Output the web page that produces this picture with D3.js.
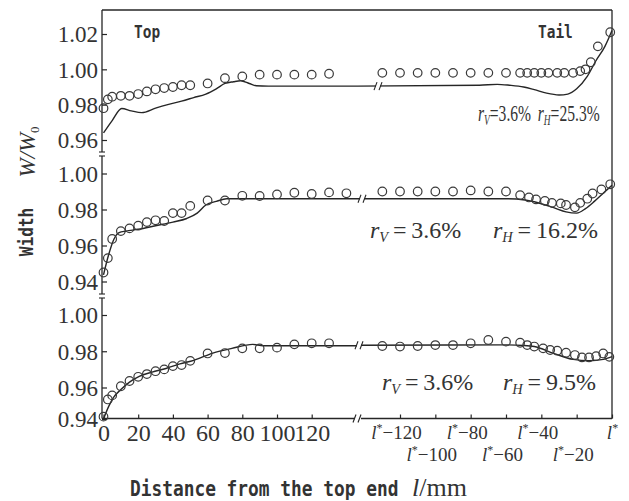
<!DOCTYPE html>
<html><head><meta charset="utf-8">
<script src="https://cdn.jsdelivr.net/npm/d3@7"></script>
<style>body{margin:0;background:#fff}svg{display:block}</style>
</head><body>
<svg id="c" width="629" height="501"></svg>
<script>
// ---------------- data ----------------
// x in mm from top end (left part) and relative to l* (right part, negative = l*-n)
const topCircLx = [0,2.5,5,10,15,20,25,30,35,40,45,50,60,70,80,90,100,110,120,130];
const topCircLy = [0.978,0.983,0.9845,0.985,0.985,0.986,0.9875,0.9887,0.9894,0.990,0.991,0.991,0.992,0.995,0.996,0.997,0.997,0.997,0.997,0.9975];
const topCircRx = [-130,-120,-110,-100,-90,-80,-70,-60,-52,-48,-44,-40,-36,-31,-27,-22,-18,-15,-12,-8,-1];
const topCircRy = [0.998,0.998,0.998,0.998,0.998,0.998,0.998,0.998,0.998,0.998,0.998,0.998,0.998,0.998,0.998,0.998,0.999,1.000,1.004,1.013,1.021];
const topLineLx = [0,5,10.5,16,22,30,37,45,52,59,65,70,75,79,84,88,95,146];
const topLineLy = [0.964,0.971,0.9778,0.9765,0.9755,0.978,0.980,0.982,0.984,0.986,0.989,0.992,0.993,0.9935,0.992,0.9907,0.9905,0.9905];
const topLineRx = [-144,-75,-65,-58,-50,-44,-37,-30,-25,-20,-14,-9,-4,0];
const topLineRy = [0.9905,0.991,0.9915,0.991,0.990,0.9885,0.9865,0.9855,0.986,0.989,0.996,1.005,1.013,1.022];

const midCircLx = [0,2.5,5,10,15,20,25,30,35,40,45,50,60,70,80,90,100,110,120,130,140];
const midCircLy = [0.945,0.953,0.9636,0.968,0.9695,0.971,0.973,0.974,0.9736,0.978,0.978,0.982,0.985,0.985,0.9876,0.9875,0.9884,0.9893,0.9886,0.9895,0.989];
const midCircRx = [-130,-120,-110,-100,-90,-80,-70,-60,-52,-47,-43,-38,-34,-29,-26,-21,-18,-14,-11,-6,-1];
const midCircRy = [0.990,0.990,0.990,0.990,0.990,0.9906,0.990,0.990,0.988,0.9867,0.9856,0.9848,0.9837,0.9834,0.9825,0.9812,0.9837,0.986,0.9889,0.9911,0.994];
const midLineLx = [0,3,6,9,13,20,30,40,48,54,59,65,71,80,146];
const midLineLy = [0.9437,0.955,0.9635,0.9672,0.968,0.969,0.971,0.973,0.975,0.978,0.9825,0.9845,0.986,0.986,0.986];
const midLineRx = [-144,-60,-54,-44,-33,-26,-20,-15,-10,-5,0];
const midLineRy = [0.986,0.986,0.9858,0.9843,0.981,0.9787,0.978,0.9805,0.9845,0.989,0.9935];

const botCircLx = [0,2.5,5,10,15,20,25,30,35,40,45,50,60,70,80,90,100,110,120,130];
const botCircLy = [0.9415,0.9524,0.955,0.9607,0.9636,0.9659,0.9674,0.969,0.970,0.9718,0.9724,0.9747,0.9788,0.979,0.9816,0.9816,0.982,0.9838,0.9844,0.9844];
const botCircRx = [-130,-120,-110,-100,-90,-80,-70,-60,-52,-48,-44,-39,-35,-31,-26,-21,-17,-13,-9,-5,-1.5];
const botCircRy = [0.9829,0.9826,0.9829,0.9834,0.9834,0.9844,0.9862,0.9853,0.9847,0.9834,0.9826,0.9816,0.9807,0.9803,0.9792,0.9779,0.9766,0.9766,0.9773,0.9788,0.9769];
const botLineLx = [0,3,6,10,15,20.6,28,36,44,52,63,74,86,92,146];
const botLineLy = [0.940,0.948,0.954,0.9587,0.963,0.9662,0.9685,0.9705,0.973,0.975,0.979,0.9816,0.9838,0.983,0.983];
const botLineRx = [-144,-60,-50,-44,-33,-22,-13,-5,0];
const botLineRy = [0.9833,0.9835,0.9832,0.9826,0.9788,0.9755,0.9748,0.9755,0.977];

const topTicks = [0.96,0.98,1.00,1.02];
const midTicks = [0.94,0.96,0.98,1.00];
const botTicks = [0.94,0.96,0.98,1.00];
const leftXTicks = [0,20,40,60,80,100,120];
const rightXTicks = [-120,-100,-80,-60,-40,-20,0];
const annotations = [
  {rv:"3.6%", rh:"25.3%"},
  {rv:"3.6%", rh:"16.2%"},
  {rv:"3.6%", rh:"9.5%"}
];

// ---------------- layout ----------------
const svg = d3.select("#c");
const ink = "#262626";
const AX_L = 102, AX_T = 10, AX_B = 418.5, AX_R = 612;

const xL = d3.scaleLinear().domain([0,120]).range([103.5,311.7]);
const xR = d3.scaleLinear().domain([-120,0]).range([400,612]);
const yTop = d3.scaleLinear().domain([0.96,1.02]).range([140,34]);
const yMid = d3.scaleLinear().domain([0.94,1.00]).range([281.5,173.5]);
const yBot = d3.scaleLinear().domain([0.94,0.96,1.00]).range([419,387.5,315]);

// frame
const frame = svg.append("g").attr("stroke", ink).attr("stroke-width", 1.3).attr("fill","none");
frame.append("line").attr("x1",AX_L).attr("x2",AX_R).attr("y1",AX_T).attr("y2",AX_T);
frame.append("line").attr("x1",AX_R).attr("x2",AX_R).attr("y1",AX_T).attr("y2",AX_B);
[[AX_T,152],[156,294],[298,AX_B]].forEach(s=>{
  frame.append("line").attr("x1",AX_L).attr("x2",AX_L).attr("y1",s[0]).attr("y2",s[1]);
});
[152,156,294,298].forEach(y=>{
  frame.append("line").attr("x1",AX_L-3).attr("x2",AX_L+3).attr("y1",y).attr("y2",y).attr("stroke-width",1.1);
});
frame.append("line").attr("x1",AX_L).attr("x2",355).attr("y1",AX_B).attr("y2",AX_B);
frame.append("line").attr("x1",361).attr("x2",AX_R).attr("y1",AX_B).attr("y2",AX_B);
[354.5,359.5].forEach(x=>{
  frame.append("line").attr("x1",x-1.5).attr("x2",x+1.5).attr("y1",AX_B+4).attr("y2",AX_B-4).attr("stroke-width",1.1);
});

// y axes
function yAxis(scale, ticks){
  const g = svg.append("g").attr("transform",`translate(${AX_L},0)`)
    .call(d3.axisLeft(scale).tickValues(ticks).tickSize(-5).tickSizeOuter(0).tickPadding(4).tickFormat(d3.format(".2f")));
  g.select(".domain").remove();
  g.selectAll(".tick line").attr("stroke",ink).attr("stroke-width",1.2);
  g.selectAll(".tick text").attr("font-family","'Liberation Serif',serif").attr("font-size",23).attr("fill","#333").attr("dy","0.34em");
}
yAxis(yTop, topTicks);
yAxis(yMid, midTicks);
yAxis(yBot, botTicks);

// x axes
const gxl = svg.append("g").attr("transform",`translate(0,${AX_B})`)
  .call(d3.axisBottom(xL).tickValues(leftXTicks).tickSize(-4).tickSizeOuter(0).tickPadding(5));
gxl.select(".domain").remove();
gxl.selectAll(".tick line").attr("stroke",ink).attr("stroke-width",1.2);
gxl.selectAll(".tick text").attr("font-family","'Liberation Serif',serif").attr("font-size",24).attr("fill","#333");

const gxr = svg.append("g").attr("transform",`translate(0,${AX_B})`)
  .call(d3.axisBottom(xR).tickValues(rightXTicks).tickSize(-4).tickSizeOuter(0).tickPadding(5));
gxr.select(".domain").remove();
gxr.selectAll(".tick line").attr("stroke",ink).attr("stroke-width",1.2);
gxr.selectAll(".tick text").each(function(d,i){
  const t = d3.select(this).text(null)
    .attr("font-family","'Liberation Serif',serif").attr("font-size",19).attr("fill","#333")
    .attr("dy", (i%2===1) ? "1.95em" : "0.8em")
    .attr("dx", d===0 ? 0 : -4);
  t.append("tspan").attr("font-style","italic").text("l");
  t.append("tspan").attr("font-size",12).attr("dy",-7).text("*");
  if(d!==0) t.append("tspan").attr("dy",7).text("\u2212"+Math.abs(d));
});

// series
const panels = [
  {y:yTop, cLx:topCircLx, cLy:topCircLy, cRx:topCircRx, cRy:topCircRy, lLx:topLineLx, lLy:topLineLy, lRx:topLineRx, lRy:topLineRy, brk:378},
  {y:yMid, cLx:midCircLx, cLy:midCircLy, cRx:midCircRx, cRy:midCircRy, lLx:midLineLx, lLy:midLineLy, lRx:midLineRx, lRy:midLineRy, brk:362},
  {y:yBot, cLx:botCircLx, cLy:botCircLy, cRx:botCircRx, cRy:botCircRy, lLx:botLineLx, lLy:botLineLy, lRx:botLineRx, lRy:botLineRy, brk:359}
];

panels.forEach(p=>{
  const pts = p.lLx.map((x,i)=>({px:xL(x), v:p.lLy[i]}))
    .concat(p.lRx.map((x,i)=>({px:xR(x), v:p.lRy[i]})));
  pts.sort((a,b)=>a.px-b.px);
  const line = d3.line().x(d=>d.px).y(d=>p.y(d.v)).curve(d3.curveMonotoneX);
  svg.append("path").datum(pts).attr("d",line).attr("fill","none").attr("stroke",ink).attr("stroke-width",1.4);
  const yb = p.y(p.lRy[0]);
  svg.append("rect").attr("x",p.brk-2).attr("y",yb-3).attr("width",4).attr("height",6).attr("fill","#fff");
  [p.brk-2.5,p.brk+2.5].forEach(x=>{
    svg.append("line").attr("x1",x-1.5).attr("x2",x+1.5).attr("y1",yb+4).attr("y2",yb-4).attr("stroke",ink).attr("stroke-width",1.1);
  });
  const circ = p.cLx.map((x,i)=>({px:xL(x), v:p.cLy[i]}))
    .concat(p.cRx.map((x,i)=>({px:xR(x), v:p.cRy[i]})));
  svg.append("g").selectAll("circle").data(circ).join("circle")
    .attr("cx",d=>d.px).attr("cy",d=>p.y(d.v)).attr("r",4.3)
    .attr("fill","none").attr("stroke","#3a3a3a").attr("stroke-width",1.2);
});

// annotations
function annot(x, y, x2rel, a, fs, sx, sp){
  const g = svg.append("g").attr("transform",`translate(${x},${y}) scale(${sx},1)`)
    .attr("font-family","'Liberation Serif',serif").attr("font-size",fs).attr("fill","#333");
  const t1 = g.append("text").attr("x",0).attr("y",0);
  t1.append("tspan").attr("font-style","italic").text("r");
  t1.append("tspan").attr("font-style","italic").attr("font-size",fs*0.6).attr("dy",4).text("V");
  t1.append("tspan").attr("dy",-4).text(sp+"="+sp+a.rv);
  const t2 = g.append("text").attr("x",x2rel).attr("y",0);
  t2.append("tspan").attr("font-style","italic").text("r");
  t2.append("tspan").attr("font-style","italic").attr("font-size",fs*0.6).attr("dy",4).text("H");
  t2.append("tspan").attr("dy",-4).text(sp+"="+sp+a.rh);
}
annot(478, 121, 92, annotations[0], 24, 0.65, "");
annot(370, 238, 123, annotations[1], 24, 1, "\u2009");
annot(382, 390, 121, annotations[2], 24, 1, "\u2009");

// labels
const mono = "'DejaVu Sans Mono',monospace";
svg.append("text").attr("transform","translate(134,38) scale(0.85,1)").attr("font-family",mono).attr("font-weight","bold").attr("font-size",17).attr("fill","#333").text("Top");
svg.append("text").attr("transform","translate(538,38) scale(0.85,1)").attr("font-family",mono).attr("font-weight","bold").attr("font-size",17).attr("fill","#333").text("Tail");

svg.append("text").attr("transform","translate(33,232) rotate(-90) scale(0.85,1)").attr("text-anchor","middle")
  .attr("font-family",mono).attr("font-weight","bold").attr("font-size",19).attr("fill","#333").text("Width");
const wt = svg.append("text").attr("transform","translate(35,152) rotate(-90)").attr("text-anchor","middle")
  .attr("font-family","'Liberation Serif',serif").attr("font-size",23).attr("fill","#333");
wt.append("tspan").attr("font-style","italic").text("W/W");
wt.append("tspan").attr("font-size",13).attr("dy",4).text("0");

svg.append("text").attr("transform","translate(130,496) scale(0.85,1)")
  .attr("font-family",mono).attr("font-weight","bold").attr("font-size",21).attr("fill","#333")
  .text("Distance from the top end");
const xu = svg.append("text").attr("x",412).attr("y",496)
  .attr("font-family","'Liberation Serif',serif").attr("font-size",26).attr("fill","#333");
xu.append("tspan").attr("font-style","italic").text("l");
xu.append("tspan").text("/mm");
</script>
</body></html>
